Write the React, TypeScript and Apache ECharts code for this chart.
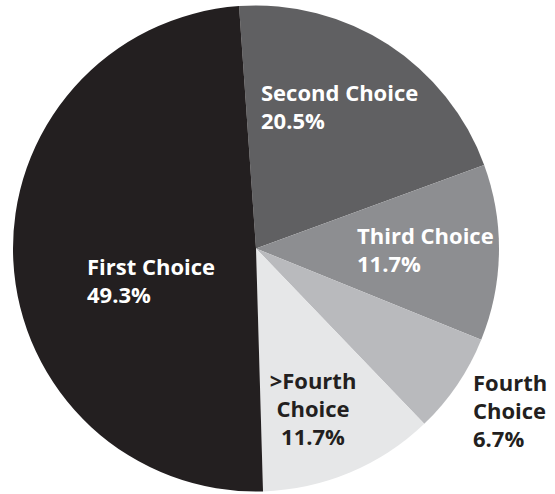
import React, { useEffect, useRef } from "react";
import * as echarts from "echarts";

// Data (clockwise from the top)
const categories = ["Second Choice", "Third Choice", "Fourth Choice", ">Fourth Choice", "First Choice"];
const percentages = [20.5, 11.7, 6.7, 11.7, 49.3];

// Styling / layout (kept separate from data)
const sliceColors = ["#606062", "#8d8e91", "#b9babd", "#e6e7e8", "#231f20"];
const labelColors = ["#ffffff", "#ffffff", "#231f20", "#231f20", "#ffffff"];
const wrapName = [false, false, true, true, false];
const labelPos: { x: number; y: number; align: "left" | "center" }[] = [
  { x: 261, y: 106, align: "left" },
  { x: 357, y: 248.5, align: "left" },
  { x: 473, y: 410, align: "left" },
  { x: 313, y: 408, align: "center" },
  { x: 87, y: 280, align: "left" },
];

export default function App() {
  const ref = useRef<HTMLDivElement>(null);
  useEffect(() => {
    if (!ref.current) return;
    const chart = echarts.init(ref.current, undefined, { renderer: "svg" });
    const data = categories.map((name, i) => ({
      name,
      value: percentages[i],
      itemStyle: { color: sliceColors[i] },
      label: { color: labelColors[i] },
    }));
    chart.setOption({
      animation: false,
      backgroundColor: "#ffffff",
      series: [
        {
          type: "pie",
          center: [256, 248.5],
          radius: 243,
          startAngle: 94,
          clockwise: true,
          avoidLabelOverlap: false,
          emphasis: { disabled: true },
          itemStyle: { borderWidth: 0 },
          label: {
            show: true,
            position: "inside",
            fontFamily: "Open Sans",
            fontWeight: "bold",
            fontSize: 22,
            lineHeight: 28,
            formatter: (p: any) => {
              const idx = p.dataIndex;
              const nm = wrapName[idx] ? p.name.replace(" ", "\n") : p.name;
              return `${nm}\n${Number(p.value).toFixed(1)}%`;
            },
          },
          labelLine: { show: false },
          labelLayout: (params: any) => {
            const lp = labelPos[params.dataIndex];
            return { x: lp.x, y: lp.y, align: lp.align, verticalAlign: "middle" };
          },
          data,
        },
      ],
    });
    return () => chart.dispose();
  }, []);
  return (
    <div
      ref={ref}
      style={{ position: "fixed", left: 0, top: 0, width: 555, height: 494 }}
    />
  );
}
